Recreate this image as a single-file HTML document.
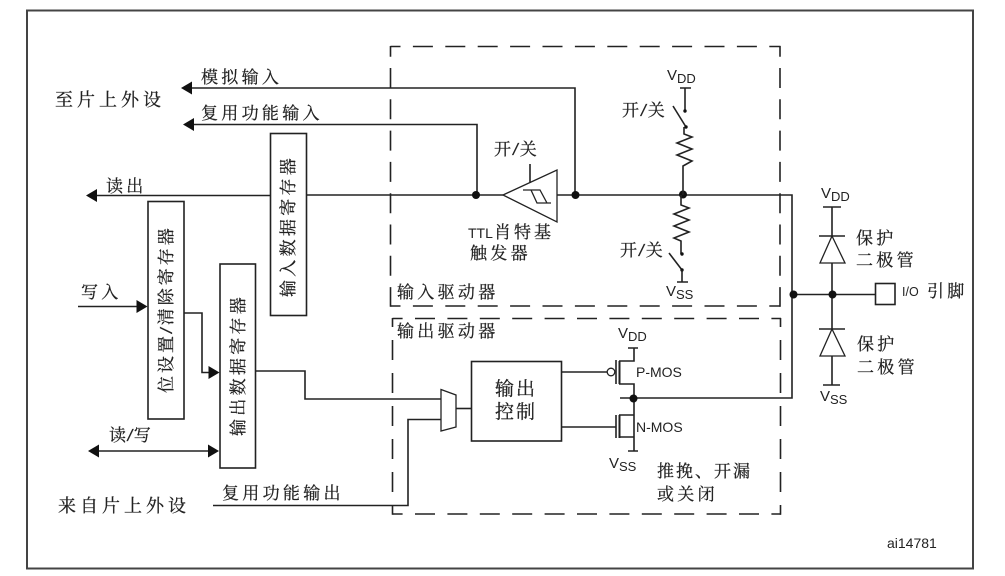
<!DOCTYPE html>
<html><head><meta charset="utf-8"><style>
html,body{margin:0;padding:0;background:#fff;width:1005px;height:576px;overflow:hidden}
svg{display:block;filter:blur(.35px)}
.c{font-family:"Liberation Serif","Noto Serif CJK SC",serif;font-size:17px;fill:#222;stroke:#222;stroke-width:.25px;letter-spacing:3.3px}
.i{font-family:"Liberation Sans",sans-serif;font-style:italic}
.s{font-family:"Liberation Sans",sans-serif;fill:#222}
.l{fill:none;stroke:#222;stroke-width:1.6}
.h{fill:none;stroke:#222;stroke-width:1.6;stroke-dasharray:20 12.4;stroke-dashoffset:10}
.a{fill:#111;stroke:none}
.b{fill:#fff;stroke:#222;stroke-width:1.6}
</style></head><body>
<svg width="1005" height="576" viewBox="0 0 1005 576" xmlns="http://www.w3.org/2000/svg">
<rect x="27" y="10.500" width="946" height="558" fill="none" stroke="#444" stroke-width="2"/>
<!-- dashed boxes -->
<path class="h" d="M390.500 46.500H780.500M390.500 306H780.500"/>
<path class="l" style="stroke-dasharray:20 11.3;stroke-dashoffset:9.3" d="M390.500 46V306.800M780 46V306.800"/>
<path class="h" style="stroke-dashoffset:9.900" d="M392.500 318.500H781M392.500 514H781"/>
<path class="l" style="stroke-dasharray:20 13;stroke-dashoffset:11" d="M392.500 318V514.800M780.500 318V514.800"/>
<!-- wires top -->
<path class="l" d="M190 88H575V195"/>
<path class="l" d="M192 124.500H477V195"/>
<path class="l" d="M94 195.500H270M306 195H503M557 195H792V398H620"/>
<path class="a" d="M181 88l11-6.500v13z"/>
<path class="a" d="M183 124.500l11-6.500v13z"/>
<path class="a" d="M86 195.500l11-6.500v13z"/>
<!-- registers -->
<rect class="b" x="270.500" y="133.500" width="36" height="182"/>
<rect class="b" x="148" y="201.500" width="36" height="217.500"/>
<rect class="b" x="220" y="264" width="35.500" height="204"/>
<!-- left wires -->
<path class="l" d="M78 306.500H140"/>
<path class="a" d="M147.500 306.500l-11-6.500v13z"/>
<path class="l" d="M184 313H202V372.500H210"/>
<path class="a" d="M219.500 372.500l-11-6.500v13z"/>
<path class="l" d="M96 451H212"/>
<path class="a" d="M88 451l11-6.500v13z"/>
<path class="a" d="M219 451l-11-6.500v13z"/>
<path class="l" d="M255 371H305V399H441"/>
<path class="l" d="M213 505.500H408V419.500H441"/>
<!-- mux -->
<path class="b" style="stroke-width:1.300" d="M441 389.500L456 395V427L441 431Z"/>
<path class="l" d="M456 408.500H471"/>
<rect class="b" x="471.500" y="361.500" width="90" height="79.500"/>
<!-- MOS -->
<path class="l" d="M561 372H607"/>
<circle cx="611" cy="372" r="3.800" fill="#fff" stroke="#222" stroke-width="1.300"/>
<path class="l" d="M616 360V384M616 415V438"/>
<path class="l" style="stroke-width:2" d="M619.500 361V384M619.500 415V438"/>
<path class="l" d="M619 361H634V348M628 348H638M619 384H634V437H619M634 437V451M628 451H638M619 415H634"/>
<path class="l" d="M561 427H616"/>
<circle cx="633.500" cy="398.500" r="4" fill="#111"/>
<!-- trigger -->
<path class="b" style="stroke-width:1.300" d="M503 195L557 170V222Z"/>
<path class="l" d="M530 164V183"/>
<path class="l" style="stroke-width:1.300" d="M523 190H540L547 203H551M531 190L537 203H551"/>
<circle cx="476" cy="195" r="4" fill="#111"/>
<circle cx="575.500" cy="195" r="4" fill="#111"/>
<circle cx="683" cy="194.500" r="4" fill="#111"/>
<!-- switches/resistors -->
<path class="l" d="M680 88H691M685 88V111"/>
<circle cx="685" cy="111" r="1.700" fill="#111"/>
<path class="l" d="M673 106L686 127"/>
<circle cx="686" cy="127" r="1.700" fill="#111"/>
<path class="l" d="M684 127V134L692 137L677 143L692 149L677 155L692 161L683 166V195"/>
<path class="l" d="M681 195V205L689 208L674 214L689 220L674 226L689 232L674 238L681 241V254"/>
<circle cx="682" cy="254" r="1.700" fill="#111"/>
<path class="l" d="M669 253L682 270"/>
<circle cx="682" cy="270" r="1.700" fill="#111"/>
<path class="l" d="M682 270V282M677 282H688"/>
<!-- diodes -->
<path class="l" d="M832 207V385M823 207H841M823 385H840M793 294.500H875"/>
<path class="l" d="M819 236H845M819 329H845"/>
<path d="M832 236L820 263H845Z" fill="#fff" stroke="#222" stroke-width="1.300"/>
<path d="M832 329L820 356H845Z" fill="#fff" stroke="#222" stroke-width="1.300"/>
<circle cx="793.500" cy="294.500" r="4" fill="#111"/>
<circle cx="832.500" cy="294.500" r="4" fill="#111"/>
<rect class="b" x="875.500" y="283.500" width="19.500" height="21"/>
<!-- text -->
<text class="c" x="55" y="106" style="font-size:18px;letter-spacing:4px">至片上外设</text>
<text class="c" x="58" y="512" style="font-size:18px;letter-spacing:4px">来自片上外设</text>
<text class="c" x="201" y="83">模拟输入</text>
<text class="c" x="201" y="119">复用功能输入</text>
<text class="c" x="106" y="192">读出</text>
<text class="c" x="81" y="298">写入</text>
<text class="c" x="109" y="441" style="letter-spacing:1.500px">读<tspan class="i">/</tspan>写</text>
<text class="c" x="222" y="499">复用功能输出</text>
<text class="c" transform="translate(294,297) rotate(-90)">输入数据寄存器</text>
<text class="c" transform="translate(172,393) rotate(-90)" style="letter-spacing:3px">位设置<tspan class="i">/</tspan>清除寄存器</text>
<text class="c" transform="translate(244,436) rotate(-90)">输出数据寄存器</text>
<text class="c" x="494" y="155" style="letter-spacing:2px">开<tspan class="i">/</tspan>关</text>
<text class="c" x="622" y="116" style="letter-spacing:2px">开<tspan class="i">/</tspan>关</text>
<text class="c" x="620" y="256" style="letter-spacing:2px">开<tspan class="i">/</tspan>关</text>
<text class="s" x="468" y="238" font-size="14">TTL</text>
<text class="c" x="494" y="238" style="letter-spacing:3px">肖特基</text>
<text class="c" x="470" y="259">触发器</text>
<text class="c" x="397" y="298">输入驱动器</text>
<text class="c" x="397" y="337">输出驱动器</text>
<text class="c" x="495" y="395" style="font-size:19px;letter-spacing:2px">输出</text>
<text class="c" x="495" y="418" style="font-size:19px;letter-spacing:2px">控制</text>
<text class="c" x="657" y="477" style="letter-spacing:2px">推挽、开漏</text>
<text class="c" x="657" y="500">或关闭</text>
<text class="c" x="856" y="244">保护</text>
<text class="c" x="856" y="266">二极管</text>
<text class="c" x="857" y="350">保护</text>
<text class="c" x="857" y="373">二极管</text>
<text class="c" x="927" y="297">引脚</text>
<text class="s" x="902" y="296" font-size="12.500">I/O</text>
<text class="s" x="636" y="377" font-size="14">P-MOS</text>
<text class="s" x="636" y="432" font-size="14">N-MOS</text>
<text class="s" x="887" y="548" font-size="14">ai14781</text>
<text class="s" x="667" y="80" font-size="15">V<tspan font-size="13" dy="3">DD</tspan></text>
<text class="s" x="666" y="296" font-size="15">V<tspan font-size="13" dy="3">SS</tspan></text>
<text class="s" x="618" y="338" font-size="15">V<tspan font-size="13" dy="3">DD</tspan></text>
<text class="s" x="609" y="468" font-size="15">V<tspan font-size="13" dy="3">SS</tspan></text>
<text class="s" x="821" y="198" font-size="15">V<tspan font-size="13" dy="3">DD</tspan></text>
<text class="s" x="820" y="401" font-size="15">V<tspan font-size="13" dy="3">SS</tspan></text>
</svg>
</body></html>
